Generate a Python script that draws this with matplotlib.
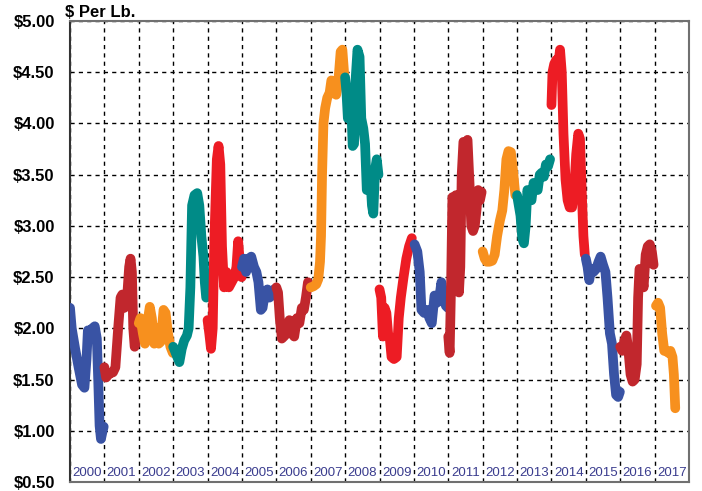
import matplotlib
matplotlib.use("Agg")
import matplotlib.pyplot as plt

plt.rcParams['font.family'] = ['Liberation Sans', 'DejaVu Sans']

# цена по годам: (доля года, $ за фунт)
p2000 = [(0.0, 2.20), (0.05, 2.00), (0.15, 1.80), (0.25, 1.62), (0.35, 1.45), (0.42, 1.42),
         (0.48, 1.70), (0.52, 1.98), (0.58, 1.97), (0.65, 2.00), (0.72, 2.02), (0.78, 1.90),
         (0.82, 1.50), (0.86, 1.05), (0.90, 0.92), (0.95, 1.00), (0.98, 1.04)]
p2001 = [(0.0, 1.62), (0.05, 1.52), (0.15, 1.56), (0.25, 1.57), (0.32, 1.62), (0.40, 2.00),
         (0.47, 2.30), (0.52, 2.33), (0.58, 2.20), (0.65, 2.25), (0.72, 2.60), (0.76, 2.68),
         (0.80, 2.55), (0.84, 2.00), (0.88, 1.82), (0.94, 1.90), (0.99, 1.98)]
p2002 = [(0.0, 2.05), (0.05, 2.10), (0.12, 1.95), (0.18, 1.85), (0.25, 2.05), (0.32, 2.21),
         (0.38, 2.10), (0.45, 1.85), (0.52, 2.00), (0.58, 1.85), (0.64, 1.87), (0.72, 2.18),
         (0.78, 2.15), (0.85, 1.95), (0.92, 1.82), (0.99, 1.76)]
p2003 = [(0.0, 1.82), (0.05, 1.78), (0.12, 1.72), (0.18, 1.67), (0.25, 1.80), (0.32, 1.88),
         (0.40, 1.93), (0.45, 2.00), (0.50, 2.40), (0.55, 3.20), (0.62, 3.30), (0.70, 3.32),
         (0.76, 3.20), (0.82, 2.90), (0.88, 2.70), (0.92, 2.45), (0.96, 2.30)]
p2004 = [(0.0, 2.08), (0.05, 1.95), (0.10, 1.80), (0.15, 2.00), (0.20, 2.90), (0.27, 3.65),
         (0.32, 3.78), (0.37, 3.60), (0.42, 2.80), (0.48, 2.40), (0.55, 2.55), (0.62, 2.40),
         (0.70, 2.45), (0.78, 2.50), (0.84, 2.60), (0.89, 2.85), (0.95, 2.60), (0.99, 2.50)]
p2005 = [(0.0, 2.60), (0.06, 2.68), (0.12, 2.55), (0.20, 2.68), (0.27, 2.70), (0.35, 2.60),
         (0.42, 2.55), (0.48, 2.45), (0.55, 2.18), (0.60, 2.20), (0.67, 2.35), (0.74, 2.38),
         (0.80, 2.30), (0.87, 2.32), (0.93, 2.38), (0.99, 2.38)]
p2006 = [(0.0, 2.40), (0.05, 2.35), (0.10, 2.10), (0.16, 1.90), (0.22, 1.92), (0.30, 1.95),
         (0.38, 2.08), (0.45, 1.95), (0.52, 1.92), (0.60, 2.10), (0.67, 2.05), (0.74, 2.20),
         (0.80, 2.18), (0.86, 2.30), (0.92, 2.45), (0.98, 2.40)]
p2007 = [(0.0, 2.40), (0.08, 2.41), (0.16, 2.43), (0.22, 2.48), (0.27, 2.65), (0.30, 2.90),
         (0.33, 3.50), (0.37, 4.00), (0.42, 4.15), (0.48, 4.25), (0.55, 4.30), (0.60, 4.42),
         (0.67, 4.38), (0.74, 4.28), (0.80, 4.40), (0.87, 4.70), (0.92, 4.72), (0.98, 4.45)]
p2008 = [(0.0, 4.45), (0.04, 4.30), (0.08, 4.05), (0.13, 4.30), (0.17, 4.25), (0.22, 3.78),
         (0.26, 3.80), (0.30, 4.40), (0.36, 4.72), (0.42, 4.65), (0.47, 4.05), (0.53, 3.95),
         (0.58, 3.80), (0.63, 3.35), (0.68, 3.45), (0.73, 3.50), (0.78, 3.20), (0.82, 3.12),
         (0.87, 3.55), (0.92, 3.65), (0.97, 3.50)]
p2009 = [(0.0, 2.38), (0.05, 2.30), (0.10, 1.92), (0.15, 2.20), (0.20, 2.15), (0.25, 1.95),
         (0.30, 1.90), (0.35, 1.72), (0.42, 1.70), (0.50, 1.72), (0.56, 2.10), (0.62, 2.30),
         (0.70, 2.50), (0.78, 2.68), (0.86, 2.80), (0.94, 2.88)]
p2010 = [(0.02, 2.82), (0.10, 2.75), (0.17, 2.55), (0.22, 2.18), (0.30, 2.15), (0.38, 2.18),
         (0.45, 2.10), (0.52, 2.05), (0.60, 2.32), (0.67, 2.25), (0.74, 2.30), (0.80, 2.45),
         (0.87, 2.30), (0.93, 2.22), (0.99, 2.20)]
p2011 = [(0.0, 1.92), (0.04, 1.76), (0.08, 2.40), (0.12, 3.28), (0.17, 3.20), (0.22, 3.30),
         (0.26, 2.80), (0.31, 2.35), (0.35, 2.60), (0.39, 3.50), (0.44, 3.82), (0.50, 3.80),
         (0.56, 3.84), (0.62, 3.40), (0.67, 3.00), (0.72, 2.95), (0.77, 3.00), (0.82, 3.15),
         (0.87, 3.35), (0.92, 3.25), (0.97, 3.33)]
p2012 = [(0.0, 2.75), (0.06, 2.68), (0.12, 2.65), (0.20, 2.65), (0.28, 2.66), (0.35, 2.72),
         (0.42, 2.90), (0.50, 3.05), (0.57, 3.15), (0.63, 3.35), (0.69, 3.65), (0.75, 3.73),
         (0.82, 3.72), (0.88, 3.55), (0.95, 3.30)]
p2013 = [(0.0, 3.30), (0.05, 3.20), (0.10, 3.10), (0.15, 2.88), (0.20, 2.83), (0.25, 3.00),
         (0.30, 3.35), (0.36, 3.28), (0.42, 3.25), (0.48, 3.42), (0.54, 3.38), (0.60, 3.35),
         (0.66, 3.50), (0.72, 3.52), (0.78, 3.48), (0.84, 3.60), (0.90, 3.58), (0.96, 3.65)]
p2014 = [(0.0, 4.18), (0.03, 4.50), (0.08, 4.58), (0.14, 4.62), (0.20, 4.58), (0.25, 4.72),
         (0.30, 4.50), (0.35, 3.90), (0.41, 3.45), (0.47, 3.25), (0.53, 3.18), (0.60, 3.18),
         (0.66, 3.35), (0.72, 3.70), (0.78, 3.90), (0.83, 3.85), (0.88, 3.35), (0.93, 2.90),
         (0.97, 2.72)]
p2015 = [(0.0, 2.68), (0.05, 2.60), (0.10, 2.47), (0.15, 2.58), (0.22, 2.55), (0.30, 2.58),
         (0.37, 2.65), (0.43, 2.70), (0.50, 2.62), (0.57, 2.55), (0.63, 2.30), (0.70, 1.95),
         (0.76, 1.85), (0.82, 1.55), (0.88, 1.35), (0.94, 1.33), (0.99, 1.38)]
p2016 = [(0.0, 1.82), (0.06, 1.78), (0.12, 1.88), (0.18, 1.93), (0.24, 1.78), (0.30, 1.55),
         (0.36, 1.48), (0.42, 1.50), (0.48, 1.65), (0.52, 2.30), (0.56, 2.58), (0.62, 2.55),
         (0.68, 2.40), (0.74, 2.72), (0.80, 2.80), (0.86, 2.82), (0.92, 2.75), (0.97, 2.62)]
p2017 = [(0.04, 2.22), (0.10, 2.25), (0.16, 2.20), (0.22, 1.95), (0.28, 1.78), (0.34, 1.78),
         (0.40, 1.76), (0.46, 1.78), (0.52, 1.72), (0.56, 1.55), (0.60, 1.22)]

years = list(range(2000, 2018))
prices = [p2000, p2001, p2002, p2003, p2004, p2005, p2006, p2007, p2008,
          p2009, p2010, p2011, p2012, p2013, p2014, p2015, p2016, p2017]
colors = ["#3953a4", "#c1272d", "#f7901e", "#008b87", "#ed1c24"]
yticks = [0.5, 1.0, 1.5, 2.0, 2.5, 3.0, 3.5, 4.0, 4.5, 5.0]

fig = plt.figure(figsize=(7.02, 4.91), dpi=100)
ax = fig.add_axes([70 / 702, 1 - 482 / 491, 619 / 702, 461 / 491])

for i, (yr, pts) in enumerate(zip(years, prices)):
    xs = [yr + p[0] for p in pts]
    vs = [p[1] for p in pts]
    ax.plot(xs, vs, color=colors[i % 5], lw=7, solid_capstyle="round",
            solid_joinstyle="round", zorder=3)
    ax.text(yr + 0.5, 0.585, str(yr), ha="center", va="center", fontsize=9.5,
            color="#3a3c8e", zorder=4)

ax.set_xlim(2000, 2018)
ax.set_ylim(0.5, 5.0)
ax.set_xticks(range(2000, 2019))
ax.set_xticklabels([])
ax.set_yticks(yticks)
ax.set_yticklabels(["${:.2f}".format(v) for v in yticks], fontsize=12, fontweight="bold")
ax.tick_params(length=0, pad=11)
ax.grid(True, color="black", linestyle=(0, (3, 3)), linewidth=1)
for name, sp in ax.spines.items():
    sp.set_color("#707070")
    sp.set_linewidth(1.5)
ax.spines["left"].set_color("#333333")

fig.text(65 / 702, 1 - 17 / 491, "$ Per Lb.", fontsize=12, fontweight="bold", va="baseline")

fig.savefig("out.png", dpi=100)
